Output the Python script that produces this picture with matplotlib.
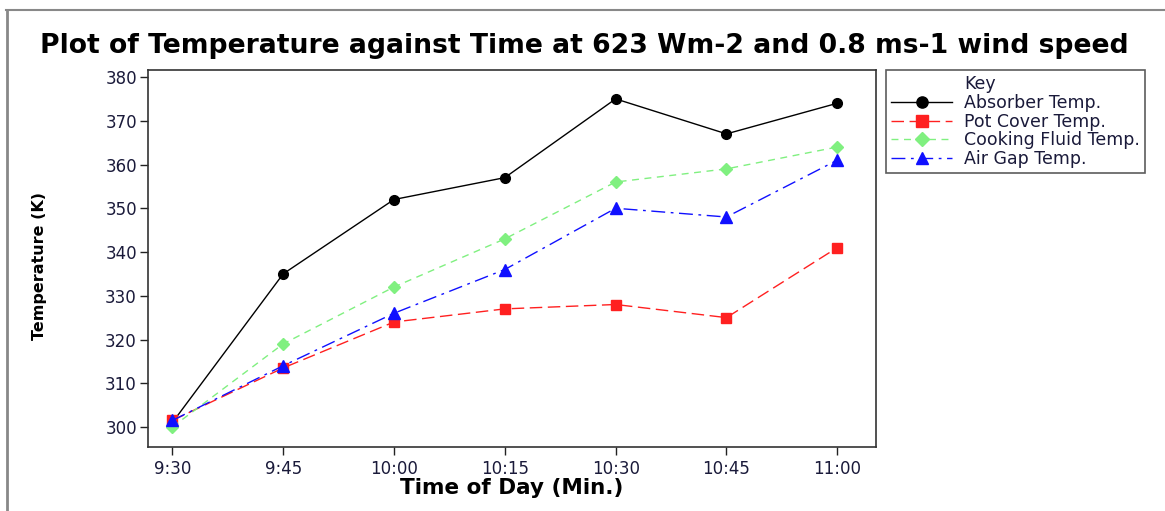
import matplotlib
matplotlib.use("Agg")
from matplotlib import pyplot as plt
from matplotlib.lines import Line2D

times = ["9:30", "9:45", "10:00", "10:15", "10:30", "10:45", "11:00"]
absorber = [301, 335, 352, 357, 375, 367, 374]
pot_cover = [301.5, 313.5, 324, 327, 328, 325, 341]
cooking_fluid = [300, 319, 332, 343, 356, 359, 364]
air_gap = [301.5, 314, 326, 336, 350, 348, 361]
y_ticks = [300, 310, 320, 330, 340, 350, 360, 370, 380]


def main():
    fig = plt.figure(figsize=(11.65, 5.11), dpi=100)
    ax = fig.add_axes([0.127, 0.125, 0.625, 0.738])
    x = list(range(len(times)))

    ax.plot(x, absorber, color="black", lw=1.0, marker="o", ms=7,
            label="Absorber Temp.")
    ax.plot(x, pot_cover, color="#ff2020", lw=1.0, marker="s", ms=7,
            dashes=(9, 4), label="Pot Cover Temp.")
    ax.plot(x, cooking_fluid, color="#80f080", lw=1.0, marker="D", ms=6.5,
            dashes=(5, 4), label="Cooking Fluid Temp.")
    ax.plot(x, air_gap, color="#1010ff", lw=1.0, marker="^", ms=8,
            dashes=(10, 4, 2, 4), label="Air Gap Temp.")

    ax.set_xlim(-0.22, 6.35)
    ax.set_ylim(295.4, 381.6)
    ax.set_xticks(x)
    ax.set_xticklabels(times)
    ax.set_yticks(y_ticks)
    ax.tick_params(labelsize=12, length=6, width=1, colors="#222222",
                   labelcolor="#1a1a3a")
    ax.tick_params(axis="y", pad=2)
    ax.tick_params(axis="x", pad=3)
    for s in ax.spines.values():
        s.set_linewidth(1.2)
        s.set_color("#333333")

    ax.set_xlabel("Time of Day (Min.)", fontsize=15.5, fontweight="bold",
                  labelpad=0)
    ax.set_ylabel("Temperature (K)", fontsize=11.5, fontweight="bold")
    ax.yaxis.set_label_coords(-0.139, 0.48)

    fig.text(0.034, 0.91,
             "Plot of Temperature against Time at 623 Wm-2 and 0.8 ms-1 wind speed",
             fontsize=19.2, fontweight="bold", ha="left", va="center")

    handles, labels = ax.get_legend_handles_labels()
    blank = Line2D([], [], color="none")
    leg = fig.legend([blank] + handles, ["Key"] + labels,
                     loc="upper left", bbox_to_anchor=(0.7605, 0.863),
                     borderaxespad=0, fontsize=12.5, handlelength=3.5,
                     markerscale=1.15, frameon=True,
                     fancybox=False, edgecolor="#333333",
                     borderpad=0.3, labelspacing=0.04, handletextpad=0.7,
                     labelcolor="#1a1a3a")
    leg.get_frame().set_linewidth(1.2)

    # grey frame around the picture (top and left edges)
    fig.add_artist(Line2D([0.005, 1.0], [0.98, 0.98], color="#888888", lw=1.5))
    fig.add_artist(Line2D([0.006, 0.006], [0.0, 0.98], color="#888888", lw=2))

    fig.savefig("out.png", dpi=100)


if __name__ == "__main__":
    main()
